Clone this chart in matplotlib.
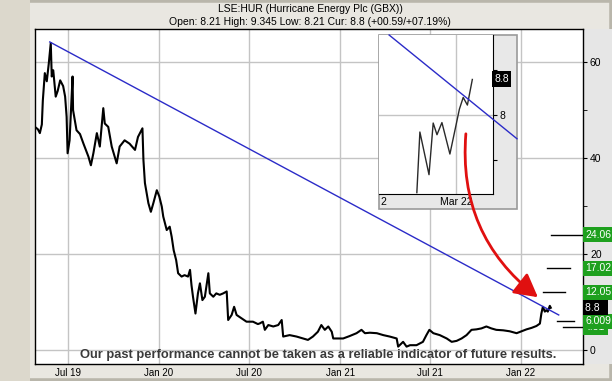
import matplotlib
matplotlib.use('Agg')
import matplotlib.pyplot as plt
import matplotlib.dates as mdates
import matplotlib.transforms as mtransforms
from matplotlib.patches import Rectangle
import pandas as pd

plt.rcParams['font.family'] = ['Liberation Sans', 'DejaVu Sans']

# --- данные ---
title = 'LSE:HUR (Hurricane Energy Plc (GBX))'
subtitle = 'Open: 8.21 High: 9.345 Low: 8.21 Cur: 8.8 (+00.59/+07.19%)'
footer = 'Our past performance cannot be taken as a reliable indicator of future results.'

price_dates = [
    '2019-04-26', '2019-05-02', '2019-05-06', '2019-05-10', '2019-05-12', '2019-05-16', '2019-05-20', '2019-05-24', '2019-05-28', '2019-05-30',
    '2019-06-02', '2019-06-07', '2019-06-11', '2019-06-16', '2019-06-22', '2019-06-26', '2019-06-29', '2019-07-01', '2019-07-05', '2019-07-11',
    '2019-07-12', '2019-07-19', '2019-07-26', '2019-08-02', '2019-08-12', '2019-08-17', '2019-08-22', '2019-08-29', '2019-09-04', '2019-09-11',
    '2019-09-14', '2019-09-21', '2019-09-28', '2019-10-04', '2019-10-08', '2019-10-14', '2019-10-24', '2019-11-03', '2019-11-14', '2019-11-20',
    '2019-11-29', '2019-12-01', '2019-12-04', '2019-12-11', '2019-12-16', '2019-12-21', '2019-12-28', '2020-01-02', '2020-01-07', '2020-01-10',
    '2020-01-17', '2020-01-23', '2020-01-27', '2020-01-31', '2020-02-05', '2020-02-09', '2020-02-16', '2020-02-22', '2020-02-29', '2020-03-04',
    '2020-03-07', '2020-03-10', '2020-03-15', '2020-03-20', '2020-03-24', '2020-03-29', '2020-04-03', '2020-04-10', '2020-04-13', '2020-04-20',
    '2020-04-26', '2020-05-03', '2020-05-10', '2020-05-17', '2020-05-20', '2020-05-27', '2020-06-01', '2020-06-06', '2020-06-16', '2020-06-26',
    '2020-07-09', '2020-07-19', '2020-07-23', '2020-07-29', '2020-08-02', '2020-08-09', '2020-08-19', '2020-08-29', '2020-09-05', '2020-09-08',
    '2020-09-21', '2020-10-05', '2020-10-18', '2020-10-28', '2020-11-07', '2020-11-17', '2020-11-24', '2020-12-01', '2020-12-08', '2020-12-15',
    '2020-12-18', '2020-12-25', '2021-01-07', '2021-01-20', '2021-02-03', '2021-02-13', '2021-02-20', '2021-03-02', '2021-03-16', '2021-03-29',
    '2021-04-11', '2021-04-25', '2021-04-28', '2021-05-08', '2021-05-15', '2021-05-22', '2021-06-04', '2021-06-17', '2021-06-24', '2021-06-30',
    '2021-07-08', '2021-07-21', '2021-08-04', '2021-08-14', '2021-08-24', '2021-09-03', '2021-09-13', '2021-09-23', '2021-10-03', '2021-10-13',
    '2021-10-23', '2021-11-02', '2021-11-12', '2021-11-26', '2021-12-09', '2021-12-23', '2022-01-02', '2022-01-12', '2022-01-22', '2022-02-01',
    '2022-02-08', '2022-02-11', '2022-02-14', '2022-02-18', '2022-02-21', '2022-02-24', '2022-02-28', '2022-03-02']
price_values = [
    46.5, 46.0, 45.2, 47.0, 52.0, 57.7, 56.0, 59.7, 64.0, 57.0,
    58.3, 52.8, 54.0, 56.2, 55.0, 52.8, 48.6, 41.0, 43.7, 57.0,
    50.0, 45.8, 45.0, 43.0, 40.3, 38.5, 41.0, 45.2, 42.4, 50.4,
    47.2, 46.5, 42.4, 40.3, 38.9, 42.4, 43.7, 43.0, 41.7, 44.4,
    46.2, 39.6, 34.8, 30.6, 28.8, 30.6, 33.3, 32.0, 29.9, 27.8,
    25.0, 25.7, 23.6, 20.8, 18.75, 16.0, 15.3, 15.6, 15.3, 16.7,
    13.5, 11.1, 7.6, 11.8, 13.9, 10.4, 11.1, 16.0, 11.8, 11.1,
    11.8, 11.5, 11.8, 12.2, 6.25, 7.3, 9.0, 7.3, 6.6, 5.9,
    5.9, 5.4, 5.55, 5.9, 4.2, 5.2, 4.9, 5.2, 6.25, 2.8,
    3.1, 2.8, 2.4, 2.1, 2.8, 3.8, 5.2, 4.2, 4.9, 3.8,
    2.4, 2.4, 2.4, 2.9, 3.5, 4.2, 3.5, 3.6, 3.5, 3.1,
    2.8, 2.4, 0.7, 1.7, 0.7, 1.0, 1.0, 1.7, 3.1, 4.2,
    3.5, 3.1, 2.4, 1.7, 1.9, 2.4, 3.1, 4.2, 4.3, 4.5,
    4.9, 4.5, 4.2, 4.1, 3.9, 3.5, 3.9, 4.3, 4.6, 5.0,
    5.5, 7.6, 9.0, 8.0, 8.3, 8.0, 9.2, 8.8]

# линия тренда
trend_dates = ['2019-05-26', '2022-03-18']
trend_values = [64.2, 7.3]

# уровни целей (справа)
target_labels = ['24.06', '17.02', '12.05', '4.81', '6.009']
target_levels = [24.06, 17.02, 12.05, 4.81, 6.009]
target_start = ['2022-03-02', '2022-02-22', '2022-02-14', '2022-03-27', '2022-03-14']
target_end = ['2022-05-03', '2022-04-09', '2022-03-30', '2022-05-03', '2022-04-17']
current_price = 8.8

x_ticks = ['2019-07-01', '2020-01-01', '2020-07-01', '2021-01-01', '2021-07-01', '2022-01-01']
x_tick_labels = ['Jul 19', 'Jan 20', 'Jul 20', 'Jan 21', 'Jul 21', 'Jan 22']

# врезка: дни от 1 марта 2022
inset_days = [-10.3, -9.5, -7.1, -6.0, -5.0, -3.7, -1.6, 0.9, 1.9, 3.0, 4.3]
inset_values = [6.27, 7.62, 6.67, 7.82, 7.56, 7.83, 7.13, 8.13, 8.39, 8.22, 8.79]
inset_trend_days = [-17.6, 16.05]
inset_trend_values = [9.78, 7.47]

green = '#1ea01e'
W, H = 612, 381


def fx(px):
    return px / W


def fy(py):
    return 1 - py / H


fig = plt.figure(figsize=(W / 100, H / 100), dpi=100, facecolor='#e9e7e1')
fig.patches.append(Rectangle((0, 0), 1, 1, transform=fig.transFigure, fill=False,
                             ec='#b9b6ab', lw=4, zorder=0))
fig.patches.append(Rectangle((0, 0), fx(30), 1, transform=fig.transFigure,
                             fc='#dcd8cc', ec='none', zorder=0))
# серая полоса справа под подписями
fig.patches.append(Rectangle((fx(583), fy(364)), fx(W - 583), fy(29) - fy(364),
                             transform=fig.transFigure, fc='#e6e6e6', ec='none', zorder=0))

ax = fig.add_axes([fx(35), fy(364), fx(583 - 35), fy(29) - fy(364)])
ax.set_zorder(2)
ax.set_facecolor('white')

dates = pd.to_datetime(price_dates)
ax.plot(dates, price_values, color='black', lw=1.5, zorder=3)
ax.plot(pd.to_datetime(trend_dates), trend_values, color='#2b2bc8', lw=1.0, zorder=4)

for s, e, lv in zip(target_start, target_end, target_levels):
    ax.plot(pd.to_datetime([s, e]), [lv, lv], color='black', lw=1.0, zorder=4)

base = mdates.date2num(pd.Timestamp('2019-07-01'))
ax.set_xlim(base - 65.8, base + 1040)
ax.set_ylim(-2.92, 66.9)

ax.set_xticks(pd.to_datetime(x_ticks))
ax.set_xticklabels(x_tick_labels, fontsize=7)
ax.tick_params(axis='x', length=0, pad=3)
ax.yaxis.tick_right()
ax.set_yticks([0, 20, 40, 60])
ax.set_yticks([10, 30, 50], minor=True)
ax.tick_params(axis='y', which='both', direction='out', length=3, labelsize=7.5, pad=2)
ax.grid(True, which='major', color='#c4c4c4', lw=1.0)
ax.set_axisbelow(True)
for sp in ax.spines.values():
    sp.set_color('black')
    sp.set_linewidth(1.0)

# подписи уровней справа
tr = mtransforms.blended_transform_factory(ax.transAxes, ax.transData)
for lab, lv in zip(target_labels, target_levels):
    ax.text(1.004, lv, lab, transform=tr, ha='left', va='center', fontsize=7.5,
            color='white', clip_on=False, zorder=6,
            bbox=dict(boxstyle='square,pad=0.25', fc=green, ec='none'))
ax.text(1.004, current_price, '8.8  ', transform=tr, ha='left', va='center', fontsize=7.5,
        color='white', clip_on=False, zorder=7,
        bbox=dict(boxstyle='square,pad=0.22', fc='black', ec='none'))

fig.text(fx(310), fy(9), title, ha='center', va='center', fontsize=7.5)
fig.text(fx(310), fy(22), subtitle, ha='center', va='center', fontsize=7.5)
ax.text(0.517, fy(355), footer, transform=mtransforms.blended_transform_factory(ax.transAxes, fig.transFigure),
        ha='center', va='center', fontsize=9.3, fontweight='bold', color='#3a3a3a', zorder=10)

# врезка
inset_box = Rectangle((fx(379), fy(209)), fx(517 - 379), fy(35) - fy(209),
                      transform=fig.transFigure, fc='#e8e8e8', ec='#9a9a9a', lw=1.2, zorder=5)
ax.add_artist(inset_box)
inset_box.set_clip_on(False)
axi = fig.add_axes([fx(379), fy(194), fx(493 - 379), fy(35) - fy(194)])
axi.set_zorder(3)
axi.set_facecolor('white')
axi.axhline(8, color='#c4c4c4', lw=1.0, zorder=1)
axi.axvline(0, color='#c4c4c4', lw=1.0, zorder=1)
axi.plot(inset_days, inset_values, color='#2a2a2a', lw=1.0, zorder=3)
axi.plot(inset_trend_days, inset_trend_values, color='#2b2bc8', lw=1.0,
         clip_on=False, zorder=4)
axi.set_xlim(-20.26, 9.74)
axi.set_ylim(6.24, 9.78)
axi.set_xticks([-19.2, 0])
axi.set_xticklabels(['2', 'Mar 22'], fontsize=7.5)
axi.tick_params(axis='x', length=0, pad=2)
axi.yaxis.tick_right()
axi.set_yticks([7, 8, 9])
axi.set_yticklabels(['', '8', ''], fontsize=7.5)
axi.tick_params(axis='y', direction='out', length=3, pad=2)
axi.spines['top'].set_visible(False)
axi.spines['left'].set_visible(False)
trI = mtransforms.blended_transform_factory(axi.transAxes, axi.transData)
axi.text(1.01, current_price, '8.8', transform=trI, ha='left', va='center', fontsize=7.5,
         color='white', clip_on=False, zorder=6,
         bbox=dict(boxstyle='square,pad=0.25', fc='black', ec='none'))

# красная стрелка из врезки к последней цене
axi.annotate('', xy=(mdates.date2num(pd.Timestamp('2022-02-04')), 11.0), xycoords=ax.transData,
             xytext=(2.6, 7.58), textcoords='data', annotation_clip=False,
             arrowprops=dict(arrowstyle='-|>,head_length=1.0,head_width=0.55',
                             connectionstyle='arc3,rad=0.27', color='#e01010',
                             lw=2.0, mutation_scale=14, shrinkA=0, shrinkB=0))

fig.savefig('out.png', dpi=100, facecolor=fig.get_facecolor())
